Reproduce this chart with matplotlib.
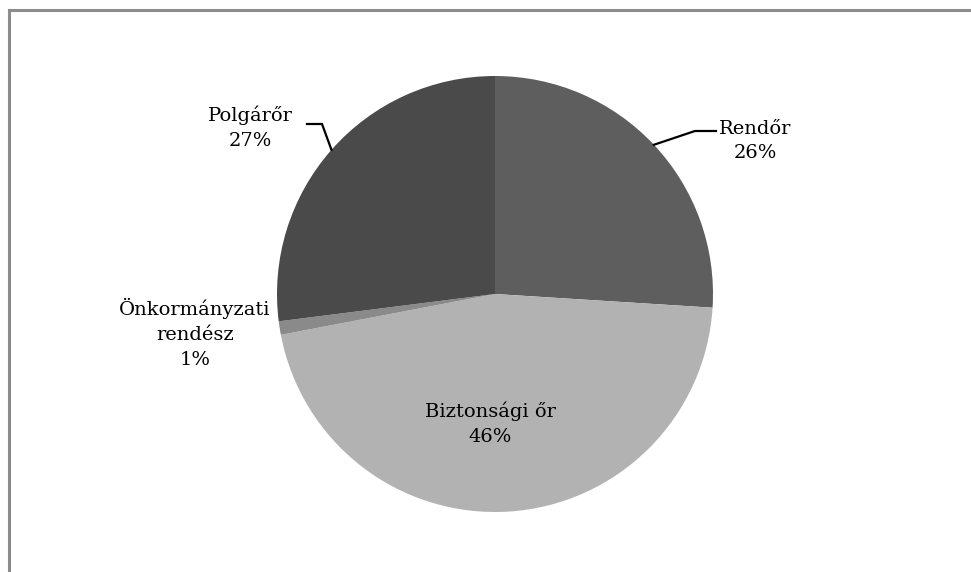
import numpy as np
import matplotlib
matplotlib.use('Agg')
import matplotlib.pyplot as plt

labels = ['Rendőr', 'Biztonsági őr', 'Önkormányzati\nrendész', 'Polgárőr']
values = [26, 46, 1, 27]
colors = ['#5e5e5e', '#b2b2b2', '#8a8a8a', '#4a4a4a']

W, H = 971, 572
fig = plt.figure(figsize=(W / 100, H / 100), dpi=100)
ax = fig.add_axes([0, 0, 1, 1])

cx, cy, r = 495, H - 294, 218
ax.pie(values, colors=colors, startangle=90, counterclock=False,
       center=(cx, cy), radius=r, frame=True,
       wedgeprops=dict(linewidth=0))
ax.set_xlim(0, W)
ax.set_ylim(0, H)
ax.set_aspect('equal')
ax.axis('off')

# border (only top and left edges show)
ax.plot([9, W + 5], [H - 10, H - 10], color='#8c8c8c', lw=2.2, clip_on=False)
ax.plot([9, 9], [H - 10, -5], color='#8c8c8c', lw=2.2, clip_on=False)

font = dict(family='DejaVu Serif', fontsize=14, color='#000000',
            ha='center', va='center', linespacing=1.5)

tot = sum(values)
cum = np.cumsum([0] + values)
mid = [90 - 360 * (cum[i] + values[i] / 2) / tot for i in range(len(values))]
txt = [f'{l}\n{v}%' for l, v in zip(labels, values)]

# label positions (pixels from top-left)
pos = [(755, 141), (490, 424), (195, 333), (250, 128)]
for t, (x, y) in zip(txt, pos):
    ax.text(x, H - y, t, **font)

# leader lines
for i, elbow, end in [(0, (695, 131), (716, 131)), (3, (322, 124), (307, 124))]:
    a = np.radians(mid[i])
    px, py = cx + r * np.cos(a), cy + r * np.sin(a)
    ax.plot([px, elbow[0], end[0]], [py, H - elbow[1], H - end[1]],
            color='black', lw=1.6, solid_joinstyle='miter')

fig.savefig('out.png', dpi=100)
